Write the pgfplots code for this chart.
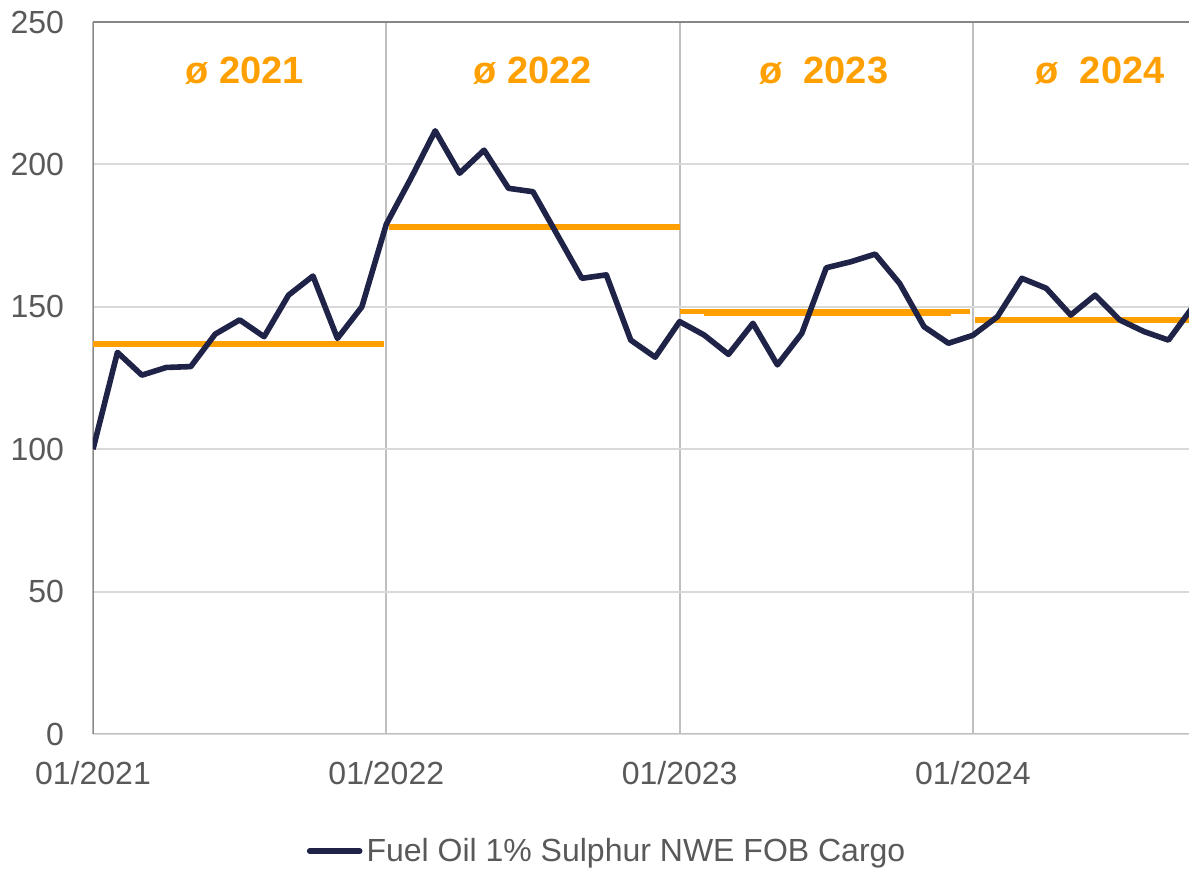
\documentclass[border=0pt]{standalone}
\usepackage{fontspec}
\setmainfont{Liberation Sans}
\usepackage{pgfplots}
\pgfplotsset{compat=1.18}

\definecolor{navy}{HTML}{1F2347}
\definecolor{avgorange}{HTML}{FFA000}
\definecolor{ticktext}{HTML}{595959}
\definecolor{gridh}{HTML}{D9D9D9}
\definecolor{gridv}{HTML}{BFBFBF}
\definecolor{axisdark}{HTML}{868686}

\begin{document}
\begin{tikzpicture}
  \begin{axis}[
    at={(0,0)}, anchor=south west,
    scale only axis,
    width=548pt, height=356pt,
    xmin=0, xmax=44.84,
    ymin=0, ymax=250,
    ytick={0,50,100,150,200,250},
    xtick={0,12,24,36},
    xticklabels={01/2021,01/2022,01/2023,01/2024},
    axis line style={draw=none},
    tick style={draw=none},
    ymajorgrids, xmajorgrids,
    y grid style={gridh, line width=1pt},
    x grid style={gridv, line width=1pt},
    ticklabel style={font=\fontsize{16}{19}\selectfont, text=ticktext},
    /pgf/number format/assume math mode=true,
    yticklabel style={xshift=-11pt},
    xticklabel style={yshift=-10pt},
    legend style={
      at={(axis description cs:0.47,-0.1643)}, anchor=center,
      draw=none, fill=none,
      font=\fontsize{16}{19}\selectfont, text=ticktext,
      legend cell align=left},
    legend image code/.code={\draw[#1, line width=2.8pt, line cap=round] (0pt,0pt) -- (25pt,0pt);},
    clip=true,
  ]
    % axis frame lines
    \draw[gridv, line width=1pt] (axis cs:0,0) -- (axis cs:44.84,0);
    \draw[axisdark, line width=1.2pt] (axis cs:0,0) -- (axis cs:0,250);
    \draw[axisdark, line width=1.2pt] (axis cs:0,250) -- (axis cs:44.84,250);

    % yearly averages
    \addplot[avgorange, line width=2.8pt, forget plot] coordinates {(0,137) (11.9,137)};
    \addplot[avgorange, line width=2.8pt, forget plot] coordinates {(12.1,178) (24,178)};
    \addplot[avgorange, line width=2.8pt, forget plot] coordinates {(24,148.3) (35.9,148.3)};
    \addplot[avgorange, line width=2.8pt, forget plot] coordinates {(25,147.7) (35.1,147.7)};
    \addplot[avgorange, line width=2.8pt, forget plot] coordinates {(36.1,145.4) (44.84,145.4)};

    \addplot[navy, line width=2.8pt, line join=round] coordinates {
      (0,100) (1,134) (2,126) (3,128.7) (4,129) (5,140.4) (6,145.4) (7,139.5)
      (8,154.1) (9,160.8) (10,138.9) (11,150)
      (12,179) (13,195) (14,211.8) (15,196.9) (16,205) (17,191.6) (18,190.4)
      (19,175.2) (20,160) (21,161.2) (22,138.3) (23,132.3)
      (24,144.8) (25,140.1) (26,133.3) (27,144.2) (28,129.6) (29,140.7)
      (30,163.7) (31,165.8) (32,168.5) (33,158.2) (34,143) (35,137.2)
      (36,140) (37,146.5) (38,160) (39,156.5) (40,147.1) (41,154.1)
      (42,145.4) (43,141.3) (44,138.3) (45,150)
    };
    \addlegendentry{Fuel Oil 1\% Sulphur NWE FOB Cargo}

    \node[text=avgorange, font=\bfseries\fontsize{19}{22}\selectfont] at (axis cs:6.2,233) {ø 2021};
    \node[text=avgorange, font=\bfseries\fontsize{19}{22}\selectfont] at (axis cs:18.0,233) {ø 2022};
    \node[text=avgorange, font=\bfseries\fontsize{19}{22}\selectfont] at (axis cs:29.9,233) {ø\ \ 2023};
    \node[text=avgorange, font=\bfseries\fontsize{19}{22}\selectfont] at (axis cs:41.2,233) {ø\ \ 2024};
  \end{axis}
  \pgfresetboundingbox
  \path[use as bounding box] (-46.5pt,-68pt) rectangle (548pt,367pt);
\end{tikzpicture}
\end{document}
